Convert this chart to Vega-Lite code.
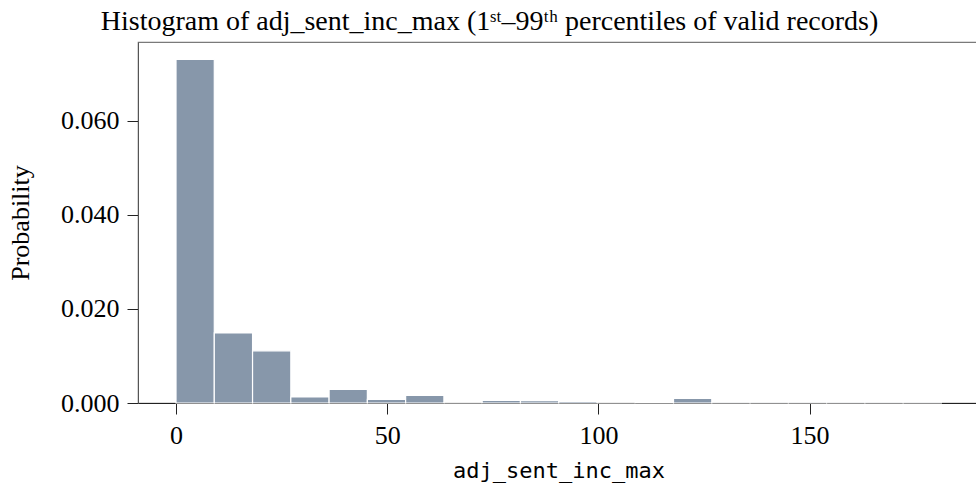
{
  "$schema": "https://vega.github.io/schema/vega-lite/v6.json",
  "width": 841,
  "height": 361,
  "autosize": {"type": "none"},
  "padding": {"left": 138, "top": 42, "right": -3, "bottom": 82},
  "config": {
    "view": {"stroke": "#7a7a7a", "strokeWidth": 1.2},
    "font": "Liberation Serif"
  },
  "title": {
    "text": "Histogram of adj_sent_inc_max (1ˢᵗ–99ᵗʰ percentiles of valid records)",
    "font": "Liberation Serif",
    "fontSize": 28,
    "fontWeight": "normal",
    "color": "#000000",
    "anchor": "middle",
    "frame": "group",
    "dx": -69,
    "offset": 6
  },
  "data": {
    "values": [
      {"bin_start": 0.0, "bin_end": 9.06, "density": 0.0731},
      {"bin_start": 9.06, "bin_end": 18.12, "density": 0.0149},
      {"bin_start": 18.12, "bin_end": 27.18, "density": 0.0111},
      {"bin_start": 27.18, "bin_end": 36.24, "density": 0.00128},
      {"bin_start": 36.24, "bin_end": 45.3, "density": 0.0029},
      {"bin_start": 45.3, "bin_end": 54.36, "density": 0.00077},
      {"bin_start": 54.36, "bin_end": 63.42, "density": 0.0016},
      {"bin_start": 63.42, "bin_end": 72.48, "density": 0.0},
      {"bin_start": 72.48, "bin_end": 81.54, "density": 0.00055},
      {"bin_start": 81.54, "bin_end": 90.6, "density": 0.0005},
      {"bin_start": 90.6, "bin_end": 99.66, "density": 0.00035},
      {"bin_start": 99.66, "bin_end": 108.72, "density": 0.0},
      {"bin_start": 108.72, "bin_end": 117.78, "density": 0.00008},
      {"bin_start": 117.78, "bin_end": 126.84, "density": 0.00098},
      {"bin_start": 126.84, "bin_end": 135.9, "density": 0.00004},
      {"bin_start": 135.9, "bin_end": 144.96, "density": 0.00004},
      {"bin_start": 144.96, "bin_end": 154.02, "density": 0.00003},
      {"bin_start": 154.02, "bin_end": 163.08, "density": 0.00004},
      {"bin_start": 163.08, "bin_end": 172.14, "density": 0.00004},
      {"bin_start": 172.14, "bin_end": 181.2, "density": 0.00004}
    ]
  },
  "mark": {"type": "bar", "orient": "vertical", "color": "#8797aa", "stroke": "#ffffff", "strokeWidth": 1.2, "strokeOpacity": 1},
  "encoding": {
    "x": {
      "field": "bin_start",
      "type": "quantitative",
      "scale": {"domain": [-9.0, 190.1], "nice": false, "zero": false, "padding": 0},
      "axis": {
        "title": "adj_sent_inc_max",
        "titleFont": "DejaVu Sans Mono",
        "titleFontSize": 22,
        "titleFontWeight": "normal",
        "titleColor": "#000000",
        "titlePadding": 12,
        "values": [0, 50, 100, 150],
        "format": "d",
        "labelFont": "Liberation Serif",
        "labelFontSize": 26,
        "labelColor": "#000000",
        "labelPadding": 8,
        "tickSize": 11,
        "tickColor": "#222222",
        "domainColor": "#222222",
        "grid": false
      }
    },
    "x2": {"field": "bin_end"},
    "y": {
      "field": "density",
      "type": "quantitative",
      "scale": {"domain": [0, 0.0768], "nice": false},
      "axis": {
        "title": "Probability",
        "titleFont": "Liberation Serif",
        "titleFontSize": 26,
        "titleFontWeight": "normal",
        "titleColor": "#000000",
        "titlePadding": 27,
        "values": [0, 0.02, 0.04, 0.06],
        "format": ".3f",
        "labelFont": "Liberation Serif",
        "labelFontSize": 26,
        "labelColor": "#000000",
        "labelPadding": 8,
        "tickSize": 11,
        "tickColor": "#222222",
        "domainColor": "#555555",
        "grid": false
      }
    },
    "y2": {"datum": 0}
  }
}
